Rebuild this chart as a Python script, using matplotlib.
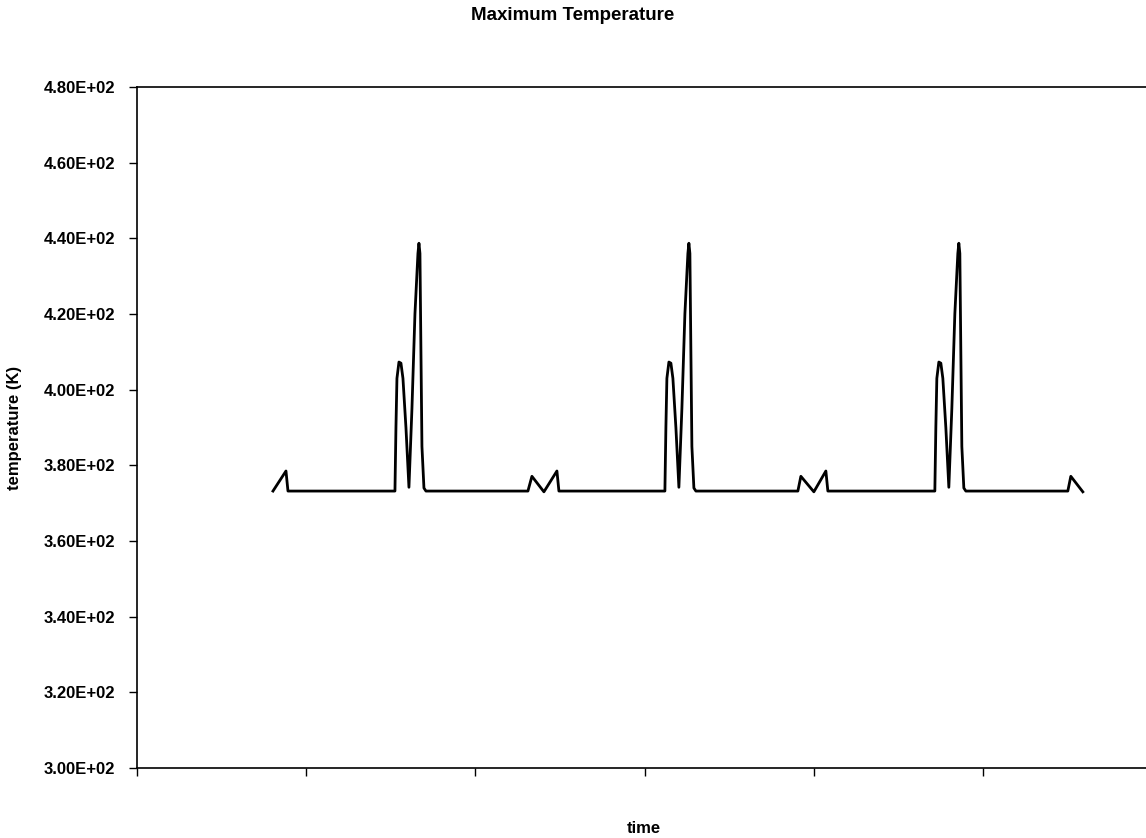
import matplotlib
matplotlib.use("Agg")
import matplotlib.pyplot as plt
from matplotlib.ticker import FuncFormatter, FixedLocator

plt.rcParams['font.family'] = ['Liberation Sans', 'DejaVu Sans']

# time in category-axis units (tick spacing = 1)
px_time = [273, 286, 288, 395, 396, 397, 399, 401, 403, 406, 409, 412, 415, 418, 419, 420, 421, 422, 424, 426,
           528, 532, 544, 557, 559,
           665, 666, 667, 669, 671, 673, 676, 679, 682, 685, 688, 689, 690, 691, 692, 694, 696,
           798, 801, 814, 826, 828,
           935, 936, 937, 939, 941, 943, 946, 949, 952, 955, 958, 959, 960, 961, 962, 964, 966,
           1068, 1071, 1083]
temperature = [373.2, 378.5, 373.2, 373.2, 390, 403, 407.3, 407, 403, 390, 374.2, 395, 420, 436, 438.7, 436, 410, 385, 374, 373.2,
               373.2, 377.1, 373.0, 378.5, 373.2,
               373.2, 390, 403, 407.3, 407, 403, 390, 374.2, 395, 420, 436, 438.7, 436, 410, 385, 374, 373.2,
               373.2, 377.1, 373.0, 378.5, 373.2,
               373.2, 390, 403, 407.3, 407, 403, 390, 374.2, 395, 420, 436, 438.7, 436, 410, 385, 374, 373.2,
               373.2, 377.1, 373.0]
time = [(p - 137) / 169.2 for p in px_time]

y_ticks = [300, 320, 340, 360, 380, 400, 420, 440, 460, 480]
x_ticks = [0, 1, 2, 3, 4, 5, 6]

fig = plt.figure(figsize=(11.46, 8.38), dpi=100)
W, H = 1146, 838
ax = fig.add_axes([137 / W, (H - 768) / H, (1152 - 137) / W, (768 - 87) / H])
ax.plot(time, temperature, color='black', linewidth=2.0)

ax.set_xlim(0, 6)
ax.set_ylim(300, 480)
ax.yaxis.set_major_locator(FixedLocator(y_ticks))
ax.xaxis.set_major_locator(FixedLocator(x_ticks))
ax.yaxis.set_major_formatter(FuncFormatter(lambda v, p: f"{v:.2E}"))
ax.set_xticklabels([])
ax.tick_params(axis='y', direction='out', length=6, width=1, pad=10, labelsize=12)
ax.tick_params(axis='x', direction='out', length=6, width=1)
for lab in ax.get_yticklabels():
    lab.set_fontweight('bold')
for s in ax.spines.values():
    s.set_linewidth(1.2)
ax.spines['right'].set_visible(False)

fig.text(15 / W, 1 - 428 / H, 'temperature (K)', rotation=90, ha='center', va='center',
         fontsize=12, fontweight='bold')
fig.text(644 / W, 1 - 828 / H, 'time', ha='center', va='center', fontsize=12, fontweight='bold')
fig.text(0.5, 1 - 15 / H, 'Maximum Temperature', ha='center', va='center', fontsize=13.5, fontweight='bold')

fig.savefig('out.png', dpi=100)
